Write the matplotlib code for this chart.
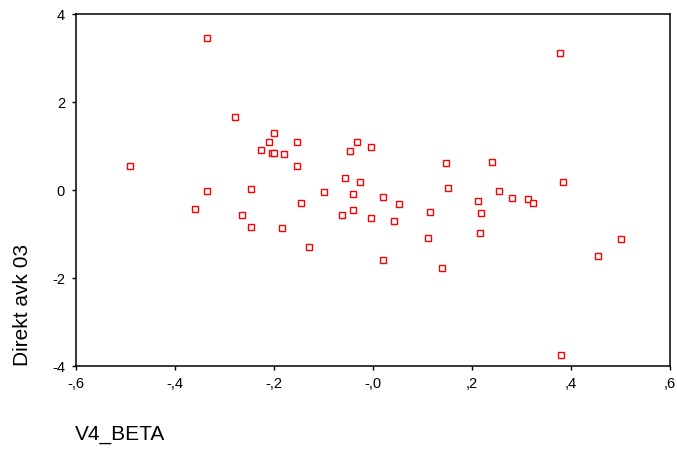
import matplotlib.pyplot as plt

plt.rcParams['font.family'] = ['Liberation Sans', 'DejaVu Sans']

# V4_BETA against Direkt avk 03
v4_beta = [-0.491, -0.335, -0.279, -0.201, -0.210, -0.154, -0.227, -0.204, -0.200,
           -0.179, -0.154, -0.335, -0.246, -0.145, -0.359, -0.264, -0.246, -0.184,
           0.377, -0.032, -0.047, -0.005, 0.148, 0.240, -0.057, -0.026, -0.100,
           -0.041, 0.020, 0.053, 0.152, 0.255, 0.280, 0.313, 0.323, 0.213, 0.218,
           0.216, -0.063, -0.041, -0.005, 0.042, 0.115, 0.112, -0.129, 0.020,
           0.139, 0.454, 0.502, 0.380, 0.384]
direkt_avk = [0.54, 3.46, 1.67, 1.30, 1.08, 1.08, 0.92, 0.85, 0.85,
              0.81, 0.54, -0.02, 0.02, -0.29, -0.43, -0.56, -0.83, -0.87,
              3.12, 1.08, 0.88, 0.98, 0.61, 0.64, 0.27, 0.19, -0.05,
              -0.08, -0.15, -0.32, 0.05, -0.02, -0.19, -0.21, -0.29, -0.25, -0.53,
              -0.97, -0.56, -0.46, -0.63, -0.70, -0.49, -1.08, -1.29, -1.59,
              -1.77, -1.49, -1.11, -3.76, 0.19]

x_ticks = [-0.6, -0.4, -0.2, 0.0, 0.2, 0.4, 0.6]
x_tick_labels = ['-,6', '-,4', '-,2', '-,0', ',2', ',4', ',6']
y_ticks = [-4, -2, 0, 2, 4]
y_tick_labels = ['-4', '-2', '0', '2', '4']

fig = plt.figure(figsize=(6.77, 4.51), dpi=100)
ax = fig.add_axes([76 / 677, 1 - 366 / 451, 594 / 677, 352 / 451])

ax.plot(v4_beta, direkt_avk, linestyle='none', marker='s', markersize=5,
        markerfacecolor='white', markeredgecolor='#ff0000', markeredgewidth=1.0)

ax.set_xlim(-0.6, 0.6)
ax.set_ylim(-4, 4)
ax.set_xticks(x_ticks)
ax.set_xticklabels(x_tick_labels)
ax.set_yticks(y_ticks)
ax.set_yticklabels(y_tick_labels)
ax.tick_params(direction='out', length=3, width=1, labelsize=10.5, pad=5, colors='black')

for side in ax.spines.values():
    side.set_linewidth(1.1)
    side.set_color('black')

fig.text(75 / 677, 1 - 435 / 451, 'V4_BETA', fontsize=15, ha='left', va='center')
fig.text(23 / 677, 1 - 366 / 451, 'Direkt avk 03', fontsize=15, rotation=90,
         ha='center', va='bottom')

fig.savefig('out.png', dpi=100)
